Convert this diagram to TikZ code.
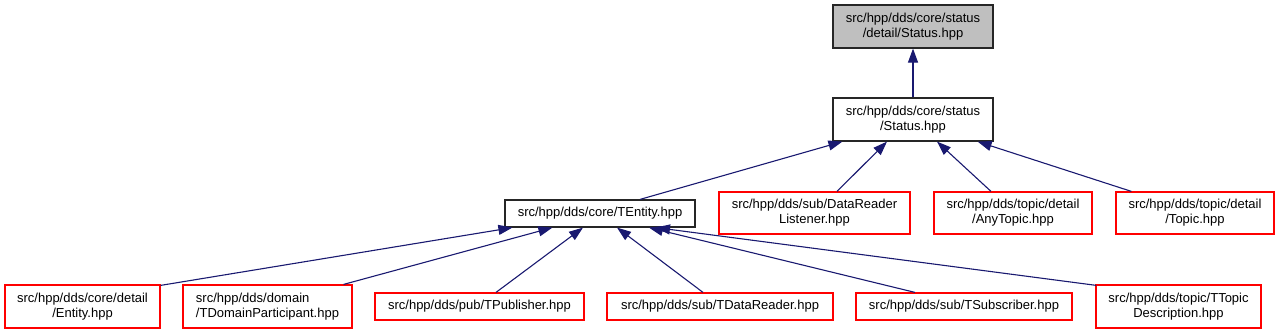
\documentclass[tikz,border=0pt]{standalone}
\usepackage{fontspec}
\setmainfont{Liberation Sans}
\usetikzlibrary{arrows.meta,calc}
\definecolor{edgeblue}{HTML}{191970}
\definecolor{topgray}{HTML}{BFBFBF}
\begin{document}
\begin{tikzpicture}[x=1pt,y=-1pt,
  every node/.style={font=\fontsize{13}{15}\selectfont, inner sep=0pt, align=center},
  blackbox/.style={draw=black!85, line width=1.2pt, rectangle},
  redbox/.style={draw=red, line width=1.2pt, rectangle},
  dep/.style={draw=edgeblue, line width=1.1pt, -{Triangle[length=14pt,width=10pt]}},
]
\useasboundingbox (0,0) rectangle (1279,336);
% nodes
\node[blackbox, fill=topgray, minimum width=160pt, minimum height=43pt] (top) at (913,26.5) {src/hpp/dds/core/status\\/detail/Status.hpp};
\node[blackbox, minimum width=160pt, minimum height=43pt] (status) at (913,119.5) {src/hpp/dds/core/status\\/Status.hpp};
\node[blackbox, minimum width=190pt, minimum height=27pt] (tentity) at (600,213.5) {src/hpp/dds/core/TEntity.hpp};
\node[redbox, minimum width=191pt, minimum height=42pt] (drl) at (814.5,213) {src/hpp/dds/sub/DataReader\\Listener.hpp};
\node[redbox, minimum width=158pt, minimum height=42pt] (anytopic) at (1013,213) {src/hpp/dds/topic/detail\\/AnyTopic.hpp};
\node[redbox, minimum width=158pt, minimum height=42pt] (topic) at (1195,213) {src/hpp/dds/topic/detail\\/Topic.hpp};
\node[redbox, minimum width=155pt, minimum height=43pt] (entity) at (82.5,306.5) {src/hpp/dds/core/detail\\/Entity.hpp};
\node[redbox, minimum width=169pt, minimum height=43pt, align=left] (tdp) at (267.5,306.5) {src/hpp/dds/domain\\/TDomainParticipant.hpp};
\node[redbox, minimum width=209pt, minimum height=27pt] (tpub) at (479.5,306.5) {src/hpp/dds/pub/TPublisher.hpp};
\node[redbox, minimum width=226pt, minimum height=27pt] (tdr) at (720,306.5) {src/hpp/dds/sub/TDataReader.hpp};
\node[redbox, minimum width=216pt, minimum height=27pt] (tsub) at (964,306.5) {src/hpp/dds/sub/TSubscriber.hpp};
\node[redbox, minimum width=165pt, minimum height=43pt] (ttd) at (1178.5,306.5) {src/hpp/dds/topic/TTopic\\Description.hpp};
% edges
\draw[dep] (status.north) -- (top.south);
\draw[dep] ($(tentity.north)+(40,0)$) -- ($(status.south west)+(10,0)$);
\draw[dep] ($(drl.north)+(22.5,0)$) -- ($(status.south)+(-26,0)$);
\draw[dep] ($(anytopic.north)+(-22,0)$) -- ($(status.south)+(24,0)$);
\draw[dep] ($(topic.north west)+(16,0)$) -- ($(status.south east)+(-16,0)$);
\draw[dep] ($(entity.north east)+(0,1)$) -- ($(tentity.south west)+(8,0)$);
\draw[dep] ($(tdp.north east)+(-9,0)$) -- ($(tentity.south west)+(48,0)$);
\draw[dep] ($(tpub.north)+(16.5,0)$) -- ($(tentity.south)+(-17,0)$);
\draw[dep] ($(tdr.north)+(-17,0)$) -- ($(tentity.south)+(17,0)$);
\draw[dep] ($(tsub.north)+(-49,0)$) -- ($(tentity.south)+(49,0)$);
\draw[dep] ($(ttd.north west)+(1,1)$) -- ($(tentity.south)+(56,0)$);
\end{tikzpicture}
\end{document}
